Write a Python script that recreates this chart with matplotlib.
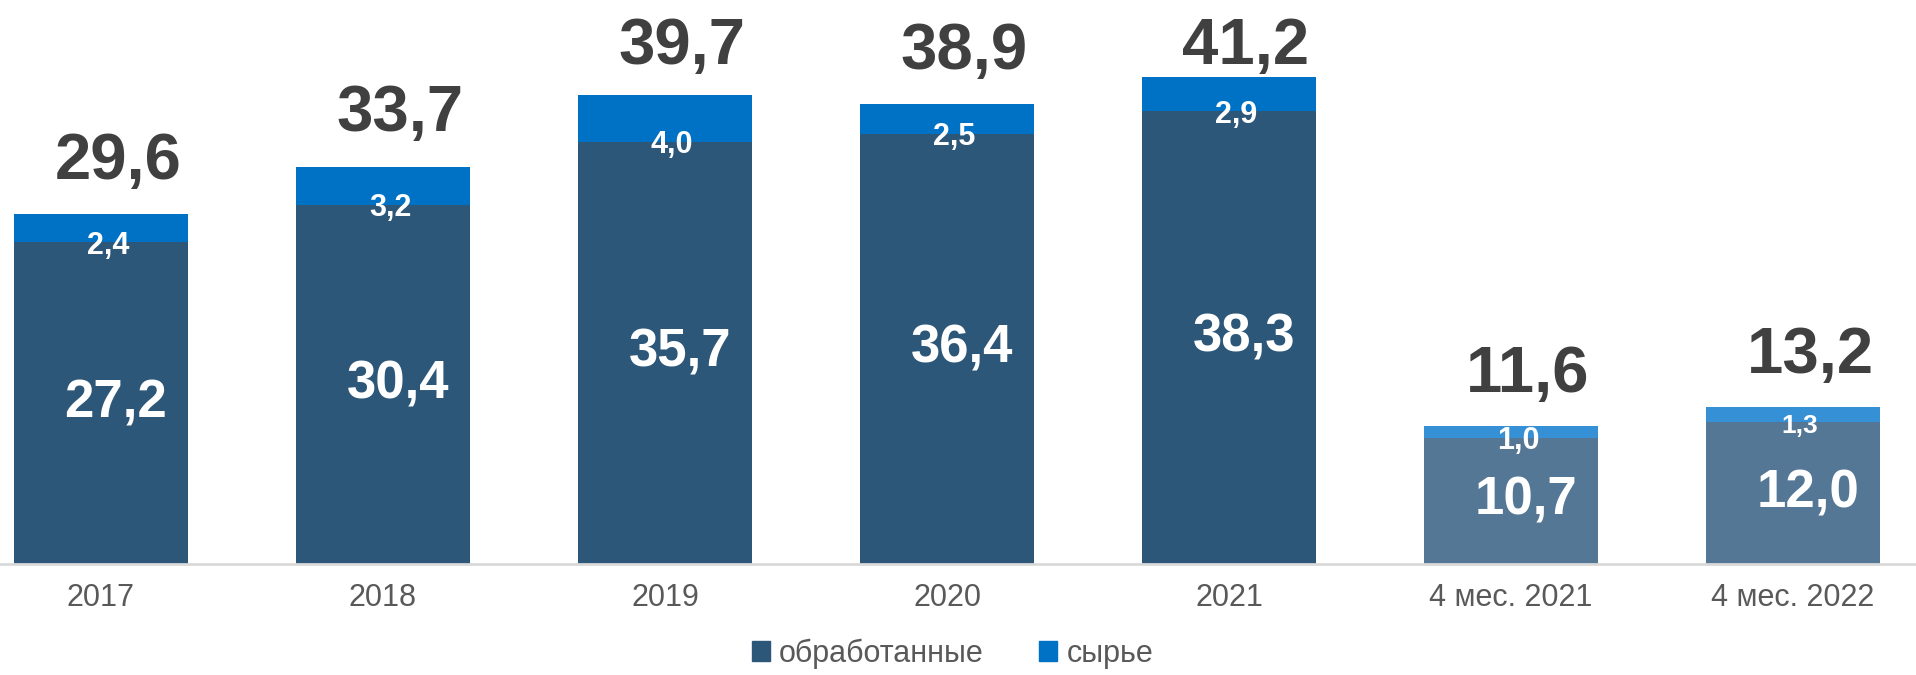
import matplotlib.pyplot as plt
from matplotlib.patches import Patch
import numpy as np

plt.rcParams['font.family'] = ['Liberation Sans', 'DejaVu Sans']

categories = ['2017', '2018', '2019', '2020', '2021', '4 мес. 2021', '4 мес. 2022']
processed = [27.2, 30.4, 35.7, 36.4, 38.3, 10.7, 12.0]
raw = [2.4, 3.2, 4.0, 2.5, 2.9, 1.0, 1.3]
totals = [29.6, 33.7, 39.7, 38.9, 41.2, 11.6, 13.2]

dark = ['#2D5779'] * 5 + ['#557796'] * 2
blue = ['#0072C6'] * 5 + ['#3590D6'] * 2

def fmt(v):
    return ('%.1f' % v).replace('.', ',')

fig = plt.figure(figsize=(19.16, 6.75), dpi=100)
ax = fig.add_axes([0, 0.1644, 1, 0.8356])

x = np.arange(len(categories))
w = 0.617
ax.bar(x, processed, width=w, color=dark, linewidth=0)
ax.bar(x, raw, bottom=processed, width=w, color=blue, linewidth=0)

ax.set_xlim(-0.358, 6.436)
ax.set_ylim(0, 47.7)

# labels inside and above bars
for i in range(len(x)):
    ax.text(x[i] + 0.053, processed[i] / 2, fmt(processed[i]), ha='center',
            va='center', color='white', fontsize=38, fontweight='bold')
    small = 22 if i < 6 else 19
    ax.text(x[i] + 0.025, processed[i] - 0.3, fmt(raw[i]), ha='center',
            va='center', color='white', fontsize=small, fontweight='bold')
    ax.text(x[i] + 0.06, min(totals[i] + 4.4, 43.75), fmt(totals[i]), ha='center',
            va='center', color='#404040', fontsize=47, fontweight='bold')

for s in ['top', 'right', 'left']:
    ax.spines[s].set_visible(False)
ax.spines['bottom'].set_color('#D9D9D9')
ax.spines['bottom'].set_linewidth(2)
ax.set_yticks([])
ax.set_xticks(x)
ax.set_xticklabels(categories, fontsize=22, color='#595959')
ax.tick_params(axis='x', length=0, pad=14)

handles = [Patch(color='#2D5779', label='обработанные'),
           Patch(color='#0072C6', label='сырье')]
fig.legend(handles=handles, loc='center', bbox_to_anchor=(0.497, 0.032), ncol=2,
           frameon=False, fontsize=22, labelcolor='#595959', handlelength=0.6,
           handleheight=0.6, handletextpad=0.3, columnspacing=1.8,
           borderpad=0.1)

fig.savefig('out.png', dpi=100)
